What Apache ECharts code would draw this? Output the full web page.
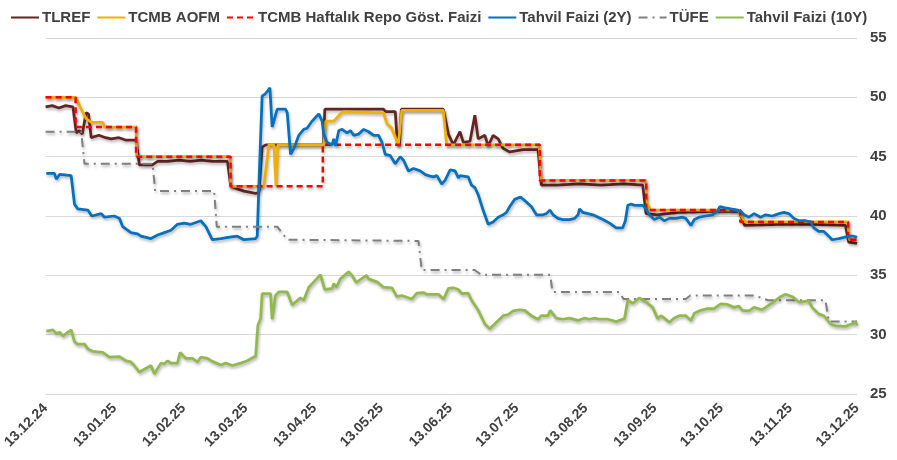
<!DOCTYPE html>
<html>
<head>
<meta charset="utf-8">
<script src="https://cdn.jsdelivr.net/npm/echarts@6/dist/echarts.min.js"></script>
<style>
  html, body { margin: 0; padding: 0; background: #fff; }
  #chart { width: 897px; height: 460px; }
</style>
</head>
<body>
<div id="chart"></div>
<script>
// x values are days since 13.12.24
var tickDays = [0, 31, 62, 90, 121, 151, 182, 212, 243, 274, 304, 335, 365];
var tickLabels = ["13.12.24", "13.01.25", "13.02.25", "13.03.25", "13.04.25", "13.05.25",
  "13.06.25", "13.07.25", "13.08.25", "13.09.25", "13.10.25", "13.11.25", "13.12.25"];

var tlref = [[0,49.2],[3,49.3],[6,49.1],[9,49.3],[12.3,49.2],[13.8,47.0],[15.2,47.2],[16.5,46.9],
  [18.2,48.7],[19.3,48.6],[20.5,46.6],[24,46.8],[27,46.6],[29.5,46.5],[33,46.6],[36,46.4],[40.7,46.4],
  [42.2,44.3],[48,44.3],[50.4,44.6],[55,44.6],[60,44.7],[65,44.6],[70,44.7],[75,44.6],[81.8,44.6],
  [83.3,42.5],[86,42.3],[89.2,42.1],[94.5,41.9],[96,42.0],[97.4,45.8],[99,46.0],[125,46.0],[125.6,49.0],
  [152,49.0],[153,48.8],[157.3,48.8],[158.3,46.0],[159.2,46.0],[160,49.0],[178.9,49.0],[181.2,46.9],
  [183.4,46.0],[186.4,47.1],[187.9,46.2],[190.9,46.3],[193.1,48.5],[194.6,46.5],[197.6,46.8],[199.1,45.9],
  [201.3,46.8],[203.6,46.5],[205.8,45.7],[208.8,45.4],[214.8,45.6],[221.5,45.6],[223,42.6],[230,42.6],
  [240,42.7],[250,42.6],[260,42.7],[268.6,42.6],[270.1,40.2],[275,40.1],[285,40.3],[300,40.4],[312,40.4],
  [314.5,39.2],[330,39.3],[345,39.3],[359.8,39.2],[361.3,37.8],[365,37.7]];

var aofm = [[0,50],[13.5,50],[16,49.0],[18.2,48.2],[20.5,47.9],[25.7,47.9],[26.5,47.5],[40.7,47.5],[41,45],
  [83,45],[83.3,42.5],[98.2,42.5],[100.4,46],[102.7,46],[103.7,42.5],[104.5,46],[125.1,46],[126,48.0],
  [129.6,48.0],[132.6,48.6],[134.1,48.8],[152,48.7],[153.5,47.8],[155.7,47.4],[158.7,46.0],[160.2,48.9],
  [178.9,48.9],[180.4,46],[222,46],[223,43],[270,43],[270.6,41.1],[272,40.5],[311.5,40.5],[314.5,39.5],
  [361,39.5],[361.5,38],[365,38]];

var repo = [[0,50],[13.5,47.5],[40.7,45],[83.2,42.5],[124.7,46],[222.3,43],[270.2,40.5],[312.5,39.5],[361,38],[365,38]];

var bond2y = [[0.3,43.6],[4,43.6],[4.8,43.1],[6.3,43.5],[11.5,43.4],[13,41.0],[14.5,40.6],[19,40.5],[20.8,40.0],
  [25,40.2],[26.5,39.9],[30.9,40.0],[33.2,39.8],[34.7,39.1],[38.4,38.6],[41.4,38.5],[42.9,38.3],[47.4,38.1],
  [50.4,38.4],[53.4,38.6],[56.4,38.8],[59.3,39.3],[62.3,39.4],[65.3,39.3],[69.8,39.6],[72.1,39.1],[75,38.0],
  [78.8,38.1],[82,38.2],[86.2,38.3],[89.2,38.0],[94.5,38.1],[95.2,38.3],[96,42.9],[97.4,50.1],[98.9,50.3],
  [100.9,50.8],[101.9,47.5],[104.2,49.0],[107.9,49.0],[108.7,48.7],[110.2,45.2],[111.7,45.7],[113.9,46.8],
  [116.1,47.3],[117.6,47.4],[119.9,48.0],[121.4,48.3],[122.9,48.6],[124.4,48.0],[125.1,46.9],[126.6,46.2],
  [128.9,46.0],[129.6,46.5],[130.4,45.9],[131.9,47.2],[133.4,47.3],[135.6,47.0],[137.1,47.2],[138.6,46.8],
  [140.8,46.9],[143.1,47.3],[145.3,47.1],[147.6,46.8],[149.8,46.8],[151.3,46.2],[152.8,45.2],[155,45.1],
  [157.3,44.4],[159.5,45.0],[161,44.7],[163.2,43.8],[165.5,44.0],[168.5,43.8],[170.7,43.5],[172.2,43.4],
  [174.5,43.3],[176,43.4],[178.2,42.7],[179.7,43.0],[182,43.9],[184.2,43.8],[185.7,43.2],[186.4,43.4],
  [190.1,43.3],[191.6,42.6],[193.1,42.4],[194.6,41.8],[196.8,40.5],[199.1,39.3],[201.3,39.5],[203.6,39.9],
  [205.8,40.1],[207.3,40.3],[208.8,40.8],[211,41.4],[213.6,41.6],[215.5,41.3],[218.5,40.8],[220.8,40.1],
  [223.8,40.1],[225.3,40.2],[226.8,40.5],[228.3,40.1],[230.5,39.8],[232.7,39.7],[235.7,39.7],[238,39.8],
  [239.5,40.1],[240.2,40.6],[241.7,40.3],[246.2,40.1],[250.7,39.7],[253.7,39.4],[256.7,39.0],[259.6,39.0],
  [260.8,39.6],[261.9,40.9],[263.4,41.0],[264.9,40.9],[267.1,40.9],[268.6,40.9],[270.1,40.6],[271.6,40.1],
  [273.8,39.7],[276.1,39.9],[278.3,39.6],[280.6,39.8],[283.6,39.8],[286.5,39.9],[288,39.8],[290.3,39.2],
  [291.8,39.7],[294,39.9],[297,40.0],[300,40.1],[302.2,40.4],[303.3,40.8],[305.2,40.7],[308.2,40.6],
  [311.2,40.5],[312.7,40.4],[314.2,40.1],[316.4,39.9],[318.7,40.2],[321.6,39.9],[323.9,40.1],[326.9,40.0],
  [329.9,40.2],[332.1,40.3],[334.4,40.2],[336.6,39.8],[338.9,39.6],[341.9,39.6],[344.1,39.5],[345.6,39.0],
  [347.8,38.7],[350.1,38.7],[352.3,38.3],[353.8,38.0],[356.8,38.1],[359.1,38.2],[361.3,38.3],[363.5,38.3],[365,38.2]];

var tufe = [[0,47.1],[16,47.1],[17.5,44.4],[48.1,44.4],[49.3,42.1],[75.8,42.1],[77,39.1],[104.2,39.1],
  [108.7,38.0],[167.7,37.9],[169.2,35.45],[193,35.45],[196,35.05],[227,35.05],[228,33.6],[258,33.6],
  [260,33.0],[288,33.0],[290,33.3],[319,33.3],[325,32.9],[350.8,32.9],[352.3,31.1],[365,31.1]];

var bond10y = [[0.3,30.3],[3.3,30.4],[4.8,30.1],[6.3,30.2],[7.8,29.9],[11.5,30.4],[13,29.4],[14.5,29.2],
  [17.5,29.2],[19,28.8],[21.2,28.6],[25.7,28.5],[28.7,28.1],[33.2,28.15],[36.2,27.8],[38.4,27.7],[39.9,27.4],
  [42.2,26.85],[47.4,27.4],[48.9,26.7],[51.9,27.6],[53.4,27.55],[54.9,27.8],[56.4,27.6],[59.3,27.6],[60.5,28.5],
  [63.1,28.0],[66.1,28.0],[68.3,27.7],[69.8,28.1],[72.8,28.0],[75,27.75],[78.8,27.45],[81,27.6],[84,27.4],
  [87.7,27.6],[90.7,27.8],[94.5,28.2],[95.5,30.8],[96.7,31.35],[97.4,33.45],[101.2,33.45],[101.9,31.3],
  [103.4,33.3],[104.9,33.6],[108.7,33.6],[110.9,32.5],[114.6,33.1],[116.1,32.9],[118.4,34.0],[121.4,34.6],
  [123.6,35.05],[125.6,33.8],[128.9,33.9],[129.6,34.3],[130.8,34.0],[132.6,34.7],[136.3,35.3],[137.8,35.0],
  [139.8,34.4],[144.3,35.0],[145.3,34.7],[149.1,34.45],[152,34.0],[155.8,33.95],[158,33.2],[160.2,33.3],
  [164.7,33.0],[167,33.5],[170,33.55],[171.5,33.4],[176.7,33.4],[179,33.0],[181.2,33.9],[183.4,33.95],
  [185.7,33.8],[187.2,33.45],[190.1,33.5],[191.6,32.9],[194.6,32.05],[197.6,30.9],[199.8,30.5],[202.8,31.05],
  [205.8,31.6],[208.1,31.7],[210.3,32.0],[213.3,32.1],[215.5,32.05],[218.5,31.6],[221.5,31.3],[223,31.6],
  [226,31.6],[227,32.05],[229.7,31.4],[232.7,31.3],[235.7,31.4],[239.5,31.2],[242.5,31.4],[244.7,31.3],
  [247,31.4],[249.2,31.3],[252.9,31.3],[256.7,31.1],[260.4,31.35],[261.9,32.9],[264.2,32.65],[267.1,33.1],
  [270.1,32.75],[273.1,32.3],[275.3,31.35],[276.8,31.6],[280.6,31.05],[282.8,31.4],[285,31.6],[288,31.6],
  [290.3,31.2],[291.8,31.8],[294.7,32.05],[297.7,32.2],[300.7,32.2],[303.7,32.6],[306.7,32.55],[309.7,32.3],
  [311.9,32.4],[313.4,32.05],[316.4,32.0],[318.7,32.3],[322.4,32.1],[326.2,32.6],[330.6,33.2],[332.9,33.4],
  [335.9,33.2],[338.9,32.75],[343.3,32.85],[344.8,32.3],[347.8,31.75],[350.1,31.6],[353.1,30.9],[355.3,30.75],
  [359.8,30.7],[362,30.85],[364.3,31.05],[365,30.8]];

var chart = echarts.init(document.getElementById("chart"));

var shadow = {
  shadowColor: "rgba(0,0,0,0.3)",
  shadowBlur: 3,
  shadowOffsetX: 1,
  shadowOffsetY: 2,
};

function lineSeries(name, data, color, extra) {
  var s = {
    name: name,
    type: "line",
    data: data,
    symbol: "none",
    lineStyle: Object.assign({ color: color, width: 2.75 }, shadow),
    // opacity 0 hides the legend's circle marker, keeps only the line
    itemStyle: { color: color, opacity: 0 },
  };
  return Object.assign(s, extra || {});
}

var option = {
  animation: false,
  textStyle: { fontFamily: "Liberation Sans, Arial, sans-serif" },
  legend: {
    top: 5,
    left: 5,
    itemWidth: 28,
    itemHeight: 14,
    itemGap: 6,
    itemStyle: { opacity: 0 },
    textStyle: { fontSize: 15, fontWeight: "bold", color: "#404040", padding: [0, 0, 0, -2] },
    data: ["TLREF", "TCMB AOFM", "TCMB Haftalık Repo Göst. Faizi", "Tahvil Faizi (2Y)", "TÜFE", "Tahvil Faizi (10Y)"],
  },
  grid: { left: 41, right: 40, top: 38, bottom: 66 },
  xAxis: {
    type: "value",
    min: 0,
    max: 365,
    axisLine: { show: false },
    axisTick: { show: false },
    splitLine: { show: false },
    axisLabel: {
      customValues: tickDays,
      rotate: 45,
      margin: 12,
      fontSize: 14,
      fontWeight: "bold",
      color: "#404040",
      formatter: function (v) {
        var i = tickDays.indexOf(v);
        return i >= 0 ? tickLabels[i] : "";
      },
    },
  },
  yAxis: {
    type: "value",
    position: "right",
    min: 25,
    max: 55,
    interval: 5,
    axisLine: { show: false },
    axisTick: { show: false },
    splitLine: { lineStyle: { color: "#d9d9d9", width: 1 } },
    axisLabel: { fontSize: 15, fontWeight: "bold", color: "#404040", margin: 13 },
  },
  series: [
    lineSeries("TLREF", tlref, "#632523"),
    lineSeries("TCMB AOFM", aofm, "#f0b000"),
    lineSeries("TCMB Haftalık Repo Göst. Faizi", repo, "#ff0000", {
      step: "end",
      lineStyle: Object.assign({ color: "#ff0000", width: 2.5, type: [6, 4] }, shadow),
    }),
    lineSeries("Tahvil Faizi (2Y)", bond2y, "#0070c0"),
    lineSeries("TÜFE", tufe, "#808080", {
      lineStyle: Object.assign({ color: "#808080", width: 2, type: [9, 5, 2, 5] }, shadow),
    }),
    lineSeries("Tahvil Faizi (10Y)", bond10y, "#92b94e"),
  ],
};

chart.setOption(option);
</script>
</body>
</html>
